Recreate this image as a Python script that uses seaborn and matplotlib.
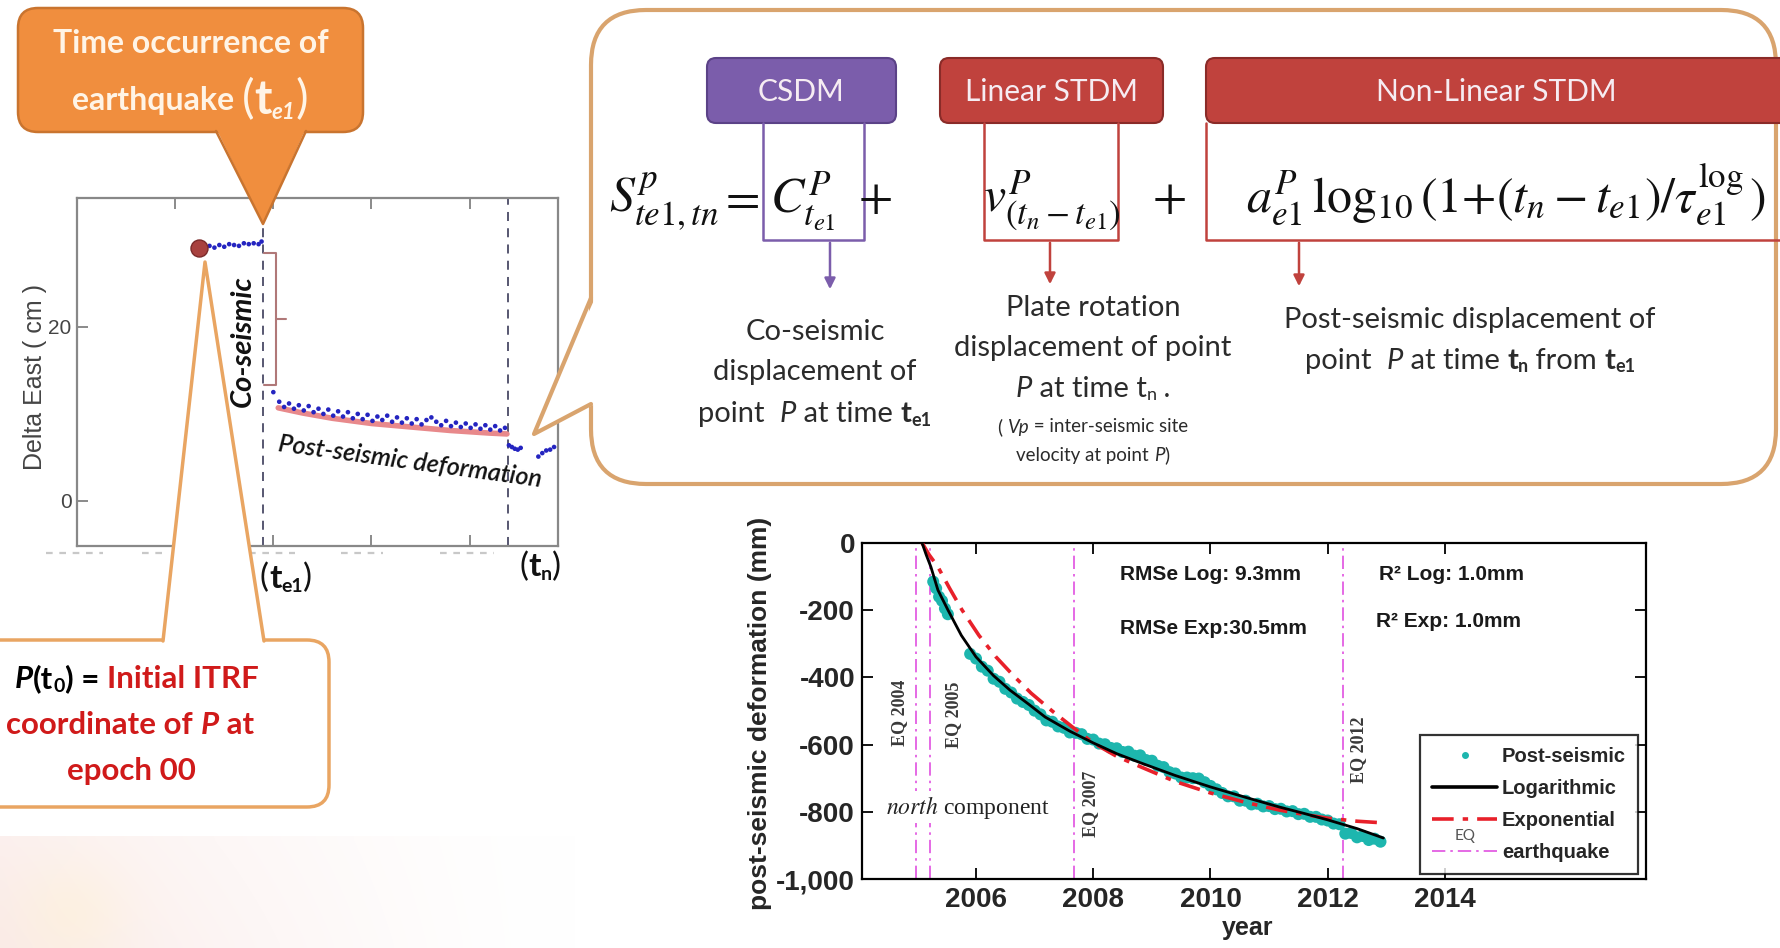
import numpy as np
import matplotlib
matplotlib.use("Agg")
import matplotlib.pyplot as plt
import seaborn as sns
from matplotlib.patches import FancyBboxPatch, Polygon, FancyArrowPatch
from matplotlib.lines import Line2D
from matplotlib import font_manager as fm

# ---------------- data: left panel (Delta East, cm) ----------------
initial_year = [2004.245]
initial_val = [29.1]
pre_year = [2004.30, 2004.35, 2004.40, 2004.45, 2004.50, 2004.55, 2004.60,
            2004.65, 2004.70, 2004.75, 2004.80, 2004.85, 2004.88]
pre_val = [29.0, 29.3, 29.1, 29.4, 29.2, 29.5, 29.4, 29.3, 29.6, 29.5, 29.6,
           29.5, 29.8]
post_year = [2005.00, 2005.06, 2005.11, 2005.16, 2005.21, 2005.26, 2005.31,
             2005.36, 2005.41, 2005.46, 2005.51, 2005.56, 2005.61, 2005.66,
             2005.71, 2005.76, 2005.81, 2005.86, 2005.91, 2005.96, 2006.01,
             2006.06, 2006.11, 2006.16, 2006.21, 2006.26, 2006.31, 2006.36,
             2006.41, 2006.46, 2006.51, 2006.56, 2006.61, 2006.66, 2006.71,
             2006.76, 2006.81, 2006.86, 2006.91, 2006.96, 2007.01, 2007.06,
             2007.11, 2007.16, 2007.21, 2007.26, 2007.31, 2007.36]
post_val = [12.5, 11.4, 10.8, 11.2, 10.6, 11.0, 10.4, 10.9, 10.2, 10.6,
            10.0, 10.5, 9.8, 10.3, 9.7, 10.2, 9.5, 10.0, 9.4, 9.9,
            9.2, 9.7, 9.3, 9.8, 9.1, 9.6, 9.0, 9.5, 8.9, 9.4,
            8.8, 9.3, 9.6, 9.1, 8.7, 9.2, 8.6, 9.0, 8.5, 8.9,
            8.4, 8.8, 8.3, 8.7, 8.2, 8.6, 8.1, 8.4]
model_year = [2005.05, 2005.30, 2005.60, 2006.00, 2006.40, 2006.80, 2007.20, 2007.38]
model_val = [10.7, 10.1, 9.5, 8.9, 8.5, 8.1, 7.8, 7.7]
after_year = [2007.40, 2007.43, 2007.46, 2007.49, 2007.52, 2007.70, 2007.74,
              2007.78, 2007.82, 2007.86]
after_val = [6.4, 6.2, 6.0, 5.9, 6.1, 5.1, 5.5, 5.8, 5.9, 6.2]
quake_lines_left = [2004.89, 2007.39]
left_xticks = [2004, 2005, 2006, 2007]
left_yticks = [0, 20]

# ---------------- data: right panel (post-seismic, mm) ----------------
cyan_year = [2005.27, 2005.32, 2005.37, 2005.42, 2005.47, 2005.52, 2005.90,
             2006.0, 2006.1, 2006.2, 2006.3, 2006.4, 2006.5, 2006.6, 2006.7, 2006.8, 2006.9,
             2007.0, 2007.1, 2007.2, 2007.3, 2007.4, 2007.5, 2007.6, 2007.7, 2007.8, 2007.9,
             2008.0, 2008.1, 2008.2, 2008.3, 2008.4, 2008.5, 2008.6, 2008.7, 2008.8, 2008.9,
             2009.0, 2009.1, 2009.2, 2009.3, 2009.4, 2009.5, 2009.6, 2009.7, 2009.8, 2009.9,
             2010.0, 2010.1, 2010.2, 2010.3, 2010.4, 2010.5, 2010.6, 2010.7, 2010.8, 2010.9,
             2011.0, 2011.1, 2011.2, 2011.3, 2011.4, 2011.5, 2011.6, 2011.7, 2011.8, 2011.9,
             2012.0, 2012.1, 2012.2, 2012.3, 2012.4, 2012.5, 2012.6, 2012.7, 2012.8, 2012.9]
cyan_val = [-115, -135, -160, -172, -195, -212, -330,
            -344, -368, -380, -404, -413, -434, -445, -463, -473, -482,
            -499, -510, -528, -532, -546, -550, -564, -565, -569, -583,
            -585, -597, -599, -610, -611, -622, -621, -633, -632, -646,
            -648, -663, -667, -682, -686, -698, -698, -700, -701, -712,
            -723, -733, -744, -754, -754, -767, -767, -778, -776, -784,
            -783, -792, -791, -799, -798, -807, -806, -815, -815, -823,
            -826, -835, -837, -865, -863, -876, -872, -884, -880, -889]
log_year = [2005.08, 2005.15, 2005.23, 2005.35, 2005.52, 2005.75, 2006.0, 2006.3,
            2006.58, 2006.9, 2007.18, 2007.6, 2008.0, 2008.4, 2008.82, 2009.4,
            2010.0, 2010.6, 2011.18, 2011.6, 2012.0, 2012.5, 2012.95]
log_val = [0, -35, -71, -140, -199, -275, -339, -395, -438, -480, -518, -560,
           -595, -627, -655, -692, -726, -757, -786, -805, -824, -850, -878]
exp_year = [2005.08, 2005.2, 2005.35, 2005.55, 2005.76, 2006.05, 2006.34, 2006.64,
            2006.94, 2007.3, 2007.64, 2008.0, 2008.4, 2008.82, 2009.4, 2010.0,
            2010.6, 2011.18, 2011.6, 2012.0, 2012.5, 2012.95]
exp_val = [0, -35, -71, -135, -199, -275, -339, -395, -447, -500, -547, -595,
           -635, -667, -710, -744, -772, -795, -808, -819, -828, -833]
eq_years = [2004.97, 2005.22, 2007.67, 2012.26]
eq_labels = ["EQ 2004", "EQ 2005", "EQ 2007", "EQ 2012"]
eq_label_pos = [(2004.70, -506), (2005.62, -512), (2007.96, -777), (2012.52, -616)]
right_xticks = [2006, 2008, 2010, 2012, 2014]
right_yticks = [0, -200, -400, -600, -800, -1000]
right_yticklabels = ["0", "-200", "-400", "-600", "-800", "-1,000"]
legend_labels = ["Post-seismic", "Logarithmic", "Exponential", "earthquake"]
stats_text = [("RMSe Log: 9.3mm", 2008.46, -95), ("RMSe Exp:30.5mm", 2008.46, -253),
              ("R² Log: 1.0mm", 2012.88, -95), ("R² Exp: 1.0mm", 2012.83, -235)]

# ---------------- fonts / theme ----------------
sns.set_theme(style="white")
avail = {f.name for f in fm.fontManager.ttflist}


def pick(*names):
    for n in names:
        if n in avail:
            return n
    return "DejaVu Sans"


CAL = pick("Lato", "Open Sans", "DejaVu Sans")
ARIAL = pick("Liberation Sans", "Arial", "DejaVu Sans")
SERIF = pick("Liberation Serif", "DejaVu Serif")
plt.rcParams["font.family"] = [CAL, "DejaVu Sans"]
plt.rcParams["mathtext.fontset"] = "custom"
plt.rcParams["mathtext.rm"] = CAL
plt.rcParams["mathtext.it"] = CAL + ":italic"
plt.rcParams["mathtext.bf"] = CAL + ":bold"

W, H = 1781, 948
fig = plt.figure(figsize=(W / 100, H / 100), dpi=100, facecolor="white")


def axrect(l, t, r, b):
    return [l / W, 1 - b / H, (r - l) / W, (b - t) / H]


# ---------------- background layer ----------------
ax_bg = fig.add_axes([0, 0, 1, 1], zorder=0)
u = np.linspace(0, 1, 80)[None, :]
v = np.linspace(0, 1, 16)[:, None]
wgt = 0.5 * (1 - u) ** 1.4 * (0.75 + 0.25 * v)
tint = np.array([0.96, 0.84, 0.82])
img = 1 - wgt[..., None] * (1 - tint)
glow = np.exp(-((u - 0.12) / 0.1) ** 2 - ((v - 0.7) / 0.5) ** 2)[..., None]
img = img * (1 - 0.35 * glow) + 0.35 * glow * np.array([1.0, 0.95, 0.80])
ax_bg.imshow(np.clip(img, 0, 1), extent=(0, 575, 948, 836), aspect="auto",
             interpolation="bicubic")
ax_bg.set_xlim(0, W)
ax_bg.set_ylim(H, 0)
ax_bg.axis("off")

# ---------------- left panel ----------------
axL = fig.add_axes(axrect(77, 198, 558, 546), zorder=1)
axL.set_facecolor("white")
sns.lineplot(x=model_year, y=model_val, ax=axL, color="#E8898B", lw=4,
             estimator=None, sort=False, zorder=2)
sns.scatterplot(x=pre_year + post_year + after_year, y=pre_val + post_val + after_val,
                ax=axL, color="#2424C0", s=11, edgecolor="none", zorder=3, legend=False)
sns.scatterplot(x=initial_year, y=initial_val, ax=axL, color="#A8413F", s=150,
                edgecolor="#7A2A2A", linewidth=1, zorder=4, legend=False)
for q in quake_lines_left:
    axL.axvline(q, color="#4A4A66", lw=1.3, ls=(0, (5, 4)), zorder=1)
# co-seismic bracket
axL.plot([2004.908, 2005.031, 2005.031, 2004.908], [28.5, 28.5, 13.3, 13.3],
         color="#B07878", lw=1.5, zorder=3)
axL.plot([2005.031, 2005.133], [20.9, 20.9], color="#B07878", lw=1.5, zorder=3)
axL.set_xlim(2003.0, 2007.9)
axL.set_ylim(-5.17, 34.8)
axL.set_xticks(left_xticks)
axL.set_xticklabels([])
axL.set_yticks(left_yticks)
axL.set_yticklabels([str(t) for t in left_yticks], fontsize=15, color="#444444",
                    family=ARIAL)
axL.tick_params(axis="both", direction="in", length=8, width=1.2, color="#777777",
                top=True, bottom=True, left=True, right=False, pad=4)
for s in axL.spines.values():
    s.set_color("#888888")
    s.set_linewidth(1.6)
axL.set_xlabel("")
axL.set_ylabel("Delta East ( cm )", fontsize=18, color="#444444", family=ARIAL)
axL.yaxis.set_label_coords(-0.062, 0.486)

# ---------------- right panel ----------------
axR = fig.add_axes(axrect(862, 543, 1646, 879), zorder=1)
axR.set_facecolor("white")
sns.scatterplot(x=cyan_year, y=cyan_val, ax=axR, color="#1DB6AE", s=75,
                edgecolor="none", zorder=2, legend=False)
sns.lineplot(x=exp_year, y=exp_val, ax=axR, color="#E8202A", lw=2.6,
             ls=(0, (6, 2.5, 1.5, 2.5)), estimator=None, sort=False, zorder=3)
sns.lineplot(x=log_year, y=log_val, ax=axR, color="black", lw=2.0,
             estimator=None, sort=False, zorder=4)
for q in eq_years:
    axR.axvline(q, color="#E050E0", lw=1.2, ls=(0, (8, 3, 1.5, 3)), zorder=1)
for lab, (xx, yy) in zip(eq_labels, eq_label_pos):
    axR.text(xx, yy, lab, rotation=90, ha="center", va="center", fontsize=13,
             family=SERIF, weight="bold", color="#3A3A3A", zorder=5)
axR.text(2004.46, -786, r"$\mathit{north}$ component", fontsize=17, family=SERIF,
         math_fontfamily="stix", ha="left", va="center", color="#222222", zorder=6,
         bbox=dict(fc="white", ec="none", pad=1.5))
for s_, xx, yy in stats_text:
    axR.text(xx, yy, s_, fontsize=15, family=ARIAL, weight="bold", ha="left",
             va="center", color="#1A1A1A", zorder=5)
axR.set_xlim(2004.055, 2017.43)
axR.set_ylim(-1000, 0)
axR.set_xticks(right_xticks)
axR.set_xticklabels([str(t) for t in right_xticks], fontsize=20, weight="bold",
                    family=ARIAL)
axR.set_yticks(right_yticks)
axR.set_yticklabels(right_yticklabels, fontsize=20, weight="bold", family=ARIAL)
axR.tick_params(axis="both", direction="in", length=8, width=1.3, color="black",
                top=True, right=True, bottom=True, left=True)
axR.tick_params(axis="x", pad=6)
axR.tick_params(axis="y", pad=5)
for s in axR.spines.values():
    s.set_color("black")
    s.set_linewidth(1.6)
axR.set_xlabel("year", fontsize=18, weight="bold", family=ARIAL)
axR.xaxis.set_label_coords(0.492, -0.11)
axR.set_ylabel("post-seismic deformation (mm)", fontsize=19, weight="bold", family=ARIAL)
axR.yaxis.set_label_coords(-0.115, 0.494)
handles = [
    Line2D([], [], ls="none", marker="o", ms=4, color="#1DB6AE"),
    Line2D([], [], color="black", lw=2.6),
    Line2D([], [], color="#E8202A", lw=2.6, ls=(0, (6, 2.5, 1.5, 2.5))),
    Line2D([], [], color="#E050E0", lw=1.2, ls=(0, (8, 3, 1.5, 3))),
]
leg = axR.legend(handles, legend_labels, loc="upper left", bbox_to_anchor=(0.712, 0.429),
                 prop=dict(family=ARIAL, weight="bold", size=14.5), frameon=True,
                 fancybox=False, edgecolor="black", handlelength=3.2, handletextpad=0.25,
                 labelspacing=0.64, borderpad=0.6, borderaxespad=0)
leg.get_frame().set_linewidth(1.6)
leg.set_zorder(10)

# ---------------- foreground drawing layer (pixel coordinates) ----------------
ax = fig.add_axes([0, 0, 1, 1], zorder=5)
ax.set_xlim(0, W)
ax.set_ylim(H, 0)
ax.axis("off")
ax.patch.set_alpha(0)

renderer = fig.canvas.get_renderer()


def rich(x, y, pieces, ha="center", **common):
    texts = []
    for s_, kw in pieces:
        p = dict(common)
        p.update(kw)
        dy = p.pop("dy", 0)
        t = ax.text(0, y + dy, s_, ha="left", va="center", **p)
        texts.append(t)
    widths = [t.get_window_extent(renderer).width for t in texts]
    x0 = x - sum(widths) / 2 if ha == "center" else x
    for t, wdt in zip(texts, widths):
        t.set_x(x0)
        x0 += wdt


ORANGE = "#F08E3E"
ORANGE_EDGE = "#C9742F"
TAN = "#E9A562"

# top orange callout
ax.add_patch(FancyBboxPatch((18, 8), 345, 124, boxstyle="round,pad=0,rounding_size=20",
                            fc=ORANGE, ec=ORANGE_EDGE, lw=1.8, zorder=6))
ax.add_patch(Polygon([(216, 128), (306, 128), (263, 224)], closed=True, fc=ORANGE,
                     ec="none", zorder=7))
ax.plot([216, 263, 306], [131, 224, 131], color=ORANGE_EDGE, lw=1.8, zorder=7)
rich(191, 43, [("Time occurrence of", {})], color="#FFF4E6", fontsize=23, weight="bold",
     zorder=8)
rich(190, 100, [("earthquake ", dict(fontsize=23, weight="bold")),
                ("(", dict(fontsize=34)), ("t", dict(fontsize=34, weight="bold")),
                ("e1", dict(fontsize=16, weight="bold", style="italic", dy=12)),
                (")", dict(fontsize=34))], color="#FFF4E6", zorder=8)

# bottom-left P(t0) callout
ax.add_patch(FancyBboxPatch((-60, 640), 389, 167, boxstyle="round,pad=0,rounding_size=22",
                            fc="white", ec=TAN, lw=2.5, zorder=6))
ax.add_patch(Polygon([(163, 644), (205, 262), (264, 644)], closed=True, fc="white",
                     ec="none", zorder=7))
ax.plot([163, 205, 264], [641, 262, 641], color=TAN, lw=2.5, zorder=7)
RED = "#D01A1A"
rich(137, 679, [("P", dict(style="italic", color="black")), ("(t", dict(color="black")),
                ("0", dict(fontsize=14, color="black", dy=8)), (") = ", dict(color="black")),
                ("Initial ITRF", dict(color=RED))], fontsize=22.5, weight="bold", zorder=8)
rich(130, 725, [("coordinate of ", {}), ("P", dict(style="italic")), (" at", {})],
     fontsize=22.5, weight="bold", color=RED, zorder=8)
rich(131, 771, [("epoch 00", {})], fontsize=22.5, weight="bold", color=RED, zorder=8)

# labels under left axis
for xs in [(46, 103), (142, 168), (249, 295), (341, 383), (440, 494)]:
    ax.plot(xs, [553, 553], color="#C8C8C8", lw=1.6, ls=(0, (3, 3)), zorder=2)
rich(286, 578, [("(", dict(fontsize=24)), ("t", dict(fontsize=24, weight="bold")),
                ("e1", dict(fontsize=14, weight="bold", dy=8)), (")", dict(fontsize=24))],
     color="#111111", zorder=8)
rich(540, 567, [("(", dict(fontsize=24)), ("t", dict(fontsize=24, weight="bold")),
                ("n", dict(fontsize=14, weight="bold", dy=8)), (")", dict(fontsize=24))],
     color="#111111", zorder=8)
ax.text(243, 341, "Co-seismic", rotation=90, ha="center", va="center", fontsize=21,
        weight="bold", style="italic", color="#111111", zorder=8)
ax.text(410, 462, "Post-seismic deformation", rotation=-7.8, rotation_mode="anchor",
        ha="center", va="center", fontsize=18, weight="semibold", style="italic",
        color="#111111", zorder=8)

# big formula callout
BOXEDGE = "#D9A46E"
ax.add_patch(FancyBboxPatch((591, 10), 1185, 474, boxstyle="round,pad=0,rounding_size=55",
                            fc="white", ec=BOXEDGE, lw=3, zorder=6))
ax.add_patch(Polygon([(595, 298), (534, 434), (595, 404)], closed=True, fc="white",
                     ec="none", zorder=7))
ax.plot([591, 534, 591], [298, 434, 404], color=BOXEDGE, lw=3, zorder=7)

PURPLE = "#7B5DAB"
DARKRED = "#C0423D"
for (x0, x1, col, ecol, lab) in [(707, 896, PURPLE, "#5B4287", "CSDM"),
                                  (940, 1163, DARKRED, "#8A2B28", "Linear STDM"),
                                  (1206, 1830, DARKRED, "#8A2B28", "Non-Linear STDM")]:
    ax.add_patch(FancyBboxPatch((x0, 58), x1 - x0, 65,
                                boxstyle="round,pad=0,rounding_size=9",
                                fc=col, ec=ecol, lw=1.5, zorder=8))
    cx = (x0 + x1) / 2 if x1 < W else 1496
    ax.text(cx, 92, lab, ha="center", va="center", fontsize=21.5, color="#F6ECF2", zorder=9)
for (x0, x1, col) in [(763, 864, PURPLE), (984, 1118, DARKRED), (1206, 1800, DARKRED)]:
    ax.plot([x0, x0, x1, x1], [123, 240, 240, 123], color=col, lw=1.8, zorder=8)
for (xa, col, y1) in [(830, PURPLE, 292), (1050, DARKRED, 287), (1299, DARKRED, 289)]:
    ax.add_patch(FancyArrowPatch((xa, 240), (xa, y1), arrowstyle="-|>", mutation_scale=16,
                                 color=col, lw=1.8, zorder=8))

for xx, s_, hal, fs in [(664, r"$S^{p}_{te1,tn}$", "center", 36),
                        (739, r"$=$", "center", 36),
                        (803, r"$C^{P}_{t_{e1}}$", "center", 36),
                        (875, r"$+$", "center", 36),
                        (1052, r"$v^{P}_{(t_n-t_{e1})}$", "center", 36),
                        (1169, r"$+$", "center", 36),
                        (1246, r"$a^{P}_{e1}\,\log_{10}(1{+}(t_n-t_{e1})/\tau^{\log}_{e1})$",
                         "left", 36)]:
    ax.text(xx, 212, s_, fontsize=fs, math_fontfamily="stix", ha=hal, va="baseline",
            color="#111111", zorder=9)

TXT = "#2B2B2B"
DF = 21
rich(815, 332, [("Co-seismic", {})], fontsize=DF, color=TXT, zorder=9)
rich(815, 372, [("displacement of", {})], fontsize=DF, color=TXT, zorder=9)
rich(815, 414, [("point  ", {}), ("P", dict(style="italic")), (" at time ", {}),
                ("t", dict(weight="bold")), ("e1", dict(weight="bold", fontsize=13, dy=6))],
     fontsize=DF, color=TXT, zorder=9)
rich(1093, 308, [("Plate rotation", {})], fontsize=DF, color=TXT, zorder=9)
rich(1093, 348, [("displacement of point", {})], fontsize=DF, color=TXT, zorder=9)
rich(1093, 389, [("P", dict(style="italic")), (" at time t", {}),
                 ("n", dict(fontsize=13, dy=6)), (" .", {})], fontsize=DF, color=TXT, zorder=9)
rich(1093, 427, [("( ", {}), ("Vp", dict(style="italic")), (" = inter-seismic site", {})],
     fontsize=13.5, color=TXT, zorder=9)
rich(1093, 455, [("velocity at point ", {}), ("P", dict(style="italic")), (")", {})],
     fontsize=13.5, color=TXT, zorder=9)
rich(1470, 320, [("Post-seismic displacement of", {})], fontsize=DF, color=TXT, zorder=9)
rich(1470, 361, [("point  ", {}), ("P", dict(style="italic")), (" at time ", {}),
                 ("t", dict(weight="bold")), ("n", dict(weight="bold", fontsize=13, dy=6)),
                 (" from ", {}), ("t", dict(weight="bold")),
                 ("e1", dict(weight="bold", fontsize=13, dy=6))],
     fontsize=DF, color=TXT, zorder=9)

# "EQ" label inside the legend
ax.text(1465, 836, "EQ", ha="center", va="center", fontsize=11, color="#555555", zorder=12)

fig.savefig("out.png", dpi=100, facecolor="white")
